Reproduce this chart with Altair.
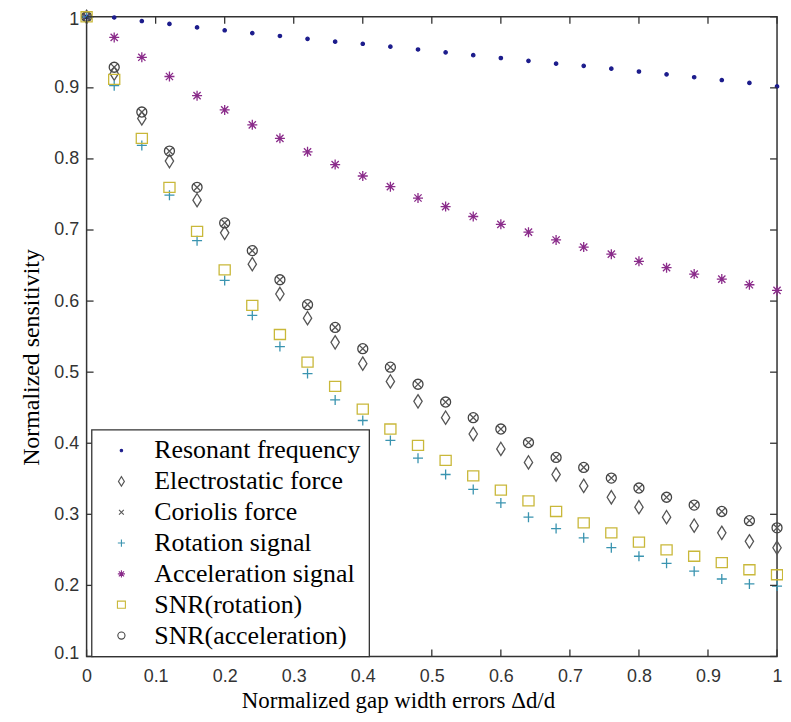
import altair as alt
import pandas as pd

x_vals = [round(0.04 * i, 2) for i in range(26)]

series_names = [
    "Resonant frequency",
    "Electrostatic force",
    "Coriolis force",
    "Rotation signal",
    "Acceleration signal",
    "SNR(rotation)",
    "SNR(acceleration)",
]

resonant = [1.0, 0.999, 0.994, 0.990, 0.985, 0.981, 0.977, 0.973, 0.969, 0.965, 0.962, 0.958, 0.954,
            0.950, 0.946, 0.942, 0.938, 0.934, 0.931, 0.927, 0.923, 0.919, 0.915, 0.911, 0.907, 0.902]
electrostatic = [1.0, 0.920, 0.857, 0.797, 0.742, 0.696, 0.652, 0.610, 0.576, 0.542, 0.512, 0.487, 0.459,
                 0.436, 0.413, 0.392, 0.373, 0.356, 0.340, 0.324, 0.310, 0.296, 0.284, 0.274, 0.262, 0.253]
coriolis = [1.0, 0.929, 0.866, 0.811, 0.760, 0.710, 0.671, 0.630, 0.595, 0.563, 0.533, 0.507, 0.483,
            0.458, 0.436, 0.420, 0.401, 0.380, 0.366, 0.351, 0.337, 0.324, 0.313, 0.304, 0.291, 0.281]
rotation = [1.0, 0.903, 0.819, 0.749, 0.685, 0.629, 0.580, 0.536, 0.498, 0.461, 0.432, 0.404, 0.379,
            0.356, 0.335, 0.316, 0.296, 0.280, 0.267, 0.253, 0.241, 0.231, 0.220, 0.209, 0.202, 0.199]
acceleration = [1.0, 0.971, 0.943, 0.916, 0.889, 0.869, 0.848, 0.829, 0.810, 0.792, 0.776, 0.761, 0.745,
                0.733, 0.719, 0.708, 0.697, 0.686, 0.676, 0.666, 0.656, 0.647, 0.638, 0.631, 0.623, 0.615]
snr_rotation = [1.0, 0.912, 0.829, 0.760, 0.698, 0.644, 0.594, 0.553, 0.514, 0.480, 0.448, 0.420, 0.397,
                0.376, 0.354, 0.334, 0.319, 0.304, 0.288, 0.274, 0.261, 0.250, 0.241, 0.232, 0.222, 0.215]
snr_acceleration = [1.0, 0.929, 0.866, 0.811, 0.760, 0.710, 0.671, 0.630, 0.595, 0.563, 0.533, 0.507, 0.483,
                    0.458, 0.436, 0.420, 0.401, 0.380, 0.366, 0.351, 0.337, 0.324, 0.313, 0.304, 0.291, 0.281]

all_series = [resonant, electrostatic, coriolis, rotation, acceleration, snr_rotation, snr_acceleration]

x_ticks = [0, 0.1, 0.2, 0.3, 0.4, 0.5, 0.6, 0.7, 0.8, 0.9, 1.0]
y_ticks = [0.1, 0.2, 0.3, 0.4, 0.5, 0.6, 0.7, 0.8, 0.9, 1.0]

stroke_colors = ["#1c1c8c", "#555555", "#555555", "#3a94b0", "#8a2b8a", "#c9b83a", "#444444"]
fill_colors = ["#1c1c8c", "transparent", "transparent", "transparent", "transparent", "transparent", "transparent"]
shapes = [
    "M-0.3,0A0.3,0.3 0 1,0 0.3,0A0.3,0.3 0 1,0 -0.3,0Z",
    "M0,-1.2L0.75,0L0,1.2L-0.75,0Z",
    "M-0.6,-0.6L0.6,0.6M-0.6,0.6L0.6,-0.6",
    "M-0.9,0L0.9,0M0,-0.9L0,0.9",
    "M-0.9,0L0.9,0M0,-0.9L0,0.9M-0.65,-0.65L0.65,0.65M-0.65,0.65L0.65,-0.65",
    "M-1,-0.9L1,-0.9L1,0.9L-1,0.9Z",
    "M-0.9,0A0.9,0.9 0 1,0 0.9,0A0.9,0.9 0 1,0 -0.9,0Z",
]

rows = []
for name, vals in zip(series_names, all_series):
    for xv, yv in zip(x_vals, vals):
        rows.append({"series": name, "x": xv, "y": yv})
df = pd.DataFrame(rows)

W, H = 694, 643
xscale = alt.Scale(domain=[0, 1], nice=False)
yscale = alt.Scale(domain=[0.1, 1], nice=False)

points = alt.Chart(df).mark_point(size=125, strokeWidth=1.3, opacity=1).encode(
    x=alt.X("x:Q", scale=xscale,
            axis=alt.Axis(title="Normalized gap width errors  Δd/d", values=x_ticks,
                          labelExpr="datum.value == 0 ? '0' : datum.value == 1 ? '1' : format(datum.value, '.1f')",
                          grid=False, ticks=False, domain=False, labelPadding=11,
                          labelFont="Liberation Sans", labelFontSize=18, labelColor="#333333",
                          titleFont="Liberation Serif", titleFontSize=23, titleFontWeight="normal",
                          titleColor="#000000", titlePadding=4, titleX=313, labelFlush=False)),
    y=alt.Y("y:Q", scale=yscale,
            axis=alt.Axis(title="Normalized sensitivity", values=y_ticks,
                          labelExpr="datum.value == 1 ? '1' : format(datum.value, '.1f')",
                          grid=False, ticks=False, domain=False, labelPadding=8,
                          labelFont="Liberation Sans", labelFontSize=18, labelColor="#333333",
                          titleFont="Liberation Serif", titleFontSize=24, titleFontWeight="normal",
                          titleColor="#000000", titlePadding=10, titleY=342,
                          labelFlush=True, labelFlushOffset=6)),
    stroke=alt.Stroke("series:N", scale=alt.Scale(domain=series_names, range=stroke_colors),
                      sort=series_names, legend=alt.Legend(title=None)),
    fill=alt.Fill("series:N", scale=alt.Scale(domain=series_names, range=fill_colors),
                  sort=series_names, legend=alt.Legend(title=None)),
    shape=alt.Shape("series:N", scale=alt.Scale(domain=series_names, range=shapes),
                    sort=series_names, legend=alt.Legend(title=None)),
    order=alt.Order("series:N"),
)

ydf = pd.DataFrame({"v": y_ticks})
xdf = pd.DataFrame({"v": x_ticks})
tick_color = "#333333"

y_left = alt.Chart(ydf).mark_rule(color=tick_color, strokeWidth=1.3).encode(
    y=alt.Y("v:Q", scale=yscale), x=alt.value(0), x2=alt.value(7))
y_right = alt.Chart(ydf).mark_rule(color=tick_color, strokeWidth=1.3).encode(
    y=alt.Y("v:Q", scale=yscale), x=alt.value(W - 7), x2=alt.value(W))
x_bottom = alt.Chart(xdf).mark_rule(color=tick_color, strokeWidth=1.3).encode(
    x=alt.X("v:Q", scale=xscale), y=alt.value(H - 7), y2=alt.value(H))
x_top = alt.Chart(xdf).mark_rule(color=tick_color, strokeWidth=1.3).encode(
    x=alt.X("v:Q", scale=xscale), y=alt.value(0), y2=alt.value(7))

chart = alt.layer(points, y_left, y_right, x_bottom, x_top).properties(
    width=W, height=H,
    autosize=alt.AutoSizeParams(type="none"),
    padding={"left": 79, "top": 7, "right": 6, "bottom": 56},
    background="white",
).configure_view(
    stroke="#333333", strokeWidth=1.5
).configure_legend(
    orient="none", legendX=5, legendY=415,
    fillColor="white", strokeColor="#333333", strokeWidth=1.3,
    padding=8, symbolOffset=9, rowPadding=5,
    labelFont="Liberation Serif", labelFontSize=26, labelColor="#000000",
    labelOffset=20, symbolSize=64, symbolStrokeWidth=1.1, labelLimit=400,
)

chart.save("out.html", embed_options={"renderer": "svg", "actions": False})
